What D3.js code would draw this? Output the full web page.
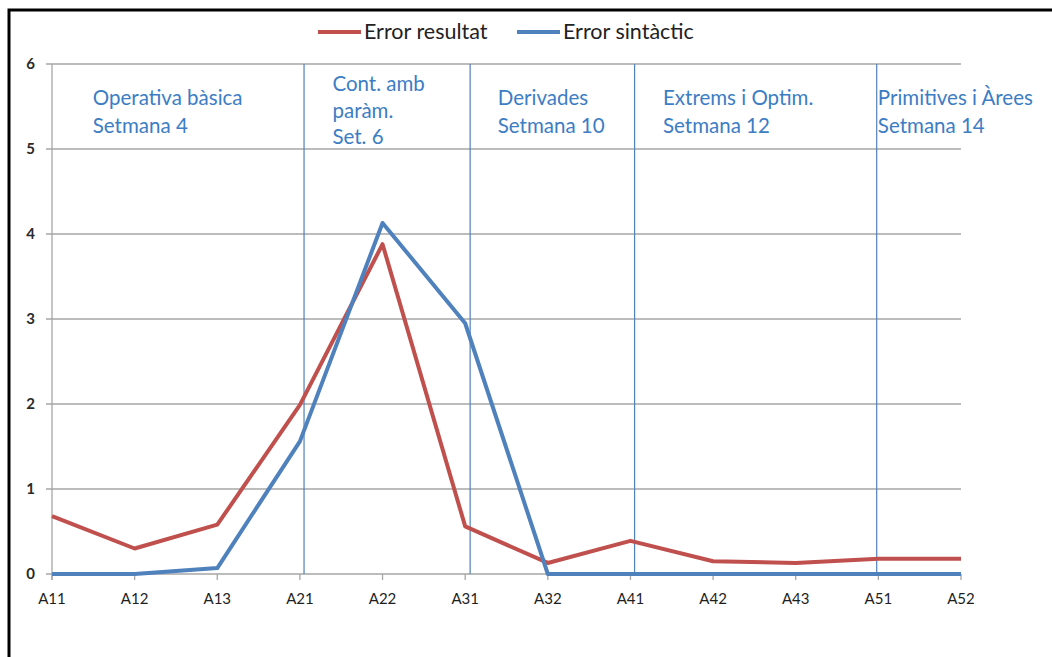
<!DOCTYPE html>
<html><head><meta charset="utf-8">
<script src="https://cdn.jsdelivr.net/npm/d3@7"></script>
<style>body{margin:0;background:#fff}svg{display:block}</style>
</head><body>
<svg id="c" width="1052" height="657"></svg>
<script>
const categories = ["A11","A12","A13","A21","A22","A31","A32","A41","A42","A43","A51","A52"];
const errorResultat = [0.68,0.30,0.58,1.99,3.88,0.56,0.13,0.39,0.15,0.13,0.18,0.18];
const errorSintactic = [0,0,0.07,1.56,4.13,2.95,0,0,0,0,0,0];
const yTicks = [0,1,2,3,4,5,6];
const seriesNames = ["Error resultat","Error sintàctic"];
// section dividers (position in category-index units) and labels
const dividerPos = [3.05,5.06,7.05,9.98];
const sectionLabels = [
  {pos:0.5, lines:["Operativa bàsica","Setmana 4"], dy:0},
  {pos:3.4, lines:["Cont. amb","paràm.","Set. 6"], dy:-14},
  {pos:5.4, lines:["Derivades","Setmana 10"], dy:0},
  {pos:7.4, lines:["Extrems i Optim.","Setmana 12"], dy:0},
  {pos:10.0, lines:["Primitives i Àrees","Setmana 14"], dy:0}
];

const svg = d3.select("#c");
const colors = ["#C0504D","#4F81BD"];
const font = "Lato, 'Open Sans', sans-serif";

// frame
svg.append("path").attr("d","M9,657 V10 H1052").attr("fill","none").attr("stroke","#000").attr("stroke-width",3);

const x0 = 52, x1 = 961, yTop = 64, yBot = 574;
const x = d3.scaleLinear().domain([0, categories.length-1]).range([x0, x1]);
const y = d3.scaleLinear().domain([0,6]).range([yBot, yTop]);

// gridlines
svg.append("g").selectAll("line").data(yTicks).join("line")
  .attr("x1", x0-6).attr("x2", x1).attr("y1", d=>y(d)).attr("y2", d=>y(d))
  .attr("stroke","#A6A6A6").attr("stroke-width",1.3);

// y axis line
svg.append("line").attr("x1",x0).attr("x2",x0).attr("y1",yTop).attr("y2",yBot+6)
  .attr("stroke","#A6A6A6").attr("stroke-width",1.3);

// y labels
svg.append("g").selectAll("text").data(yTicks).join("text")
  .attr("x", 35).attr("y", d=>y(d)+5).attr("text-anchor","end")
  .attr("font-family",font).attr("font-size",15).attr("font-weight","bold").attr("fill","#2a2a2a")
  .text(d=>d);

// x ticks
svg.append("g").selectAll("line").data(categories).join("line")
  .attr("x1",(d,i)=>x(i)).attr("x2",(d,i)=>x(i)).attr("y1",yBot).attr("y2",yBot+6)
  .attr("stroke","#A6A6A6").attr("stroke-width",1.3);
svg.append("g").selectAll("text").data(categories).join("text")
  .attr("x",(d,i)=>x(i)).attr("y",yBot+30).attr("text-anchor","middle")
  .attr("font-family",font).attr("font-size",15).attr("fill","#1e1e1e")
  .text(d=>d);

// dividers
svg.append("g").selectAll("line").data(dividerPos).join("line")
  .attr("x1",d=>x(d)).attr("x2",d=>x(d)).attr("y1",yTop).attr("y2",yBot)
  .attr("stroke","#4F81BD").attr("stroke-width",1.2);

// section labels
sectionLabels.forEach(s=>{
  const t = svg.append("text").attr("x", x(s.pos)-0.5).attr("y", 105 + s.dy)
    .attr("font-family",font).attr("font-size",20.5).attr("fill","#3C7DC4");
  s.lines.forEach((l,i)=>t.append("tspan").attr("x", x(s.pos)-0.5).attr("dy", i===0?0:(s.lines.length>2?26.5:28)).text(l));
});

// lines
const line = d3.line().x((d,i)=>x(i)).y(d=>y(d));
[errorResultat, errorSintactic].forEach((data,k)=>{
  svg.append("path").datum(data).attr("d",line).attr("fill","none")
    .attr("stroke",colors[k]).attr("stroke-width",4).attr("stroke-linejoin","round");
});

// legend
const legendX = [318, 517];
seriesNames.forEach((n,k)=>{
  svg.append("line").attr("x1",legendX[k]).attr("x2",legendX[k]+43).attr("y1",32).attr("y2",32)
    .attr("stroke",colors[k]).attr("stroke-width",4);
  svg.append("text").attr("x",legendX[k]+46).attr("y",39).attr("font-family",font).attr("font-size",21.5)
    .attr("fill","#222").text(n);
});
</script>
</body></html>
